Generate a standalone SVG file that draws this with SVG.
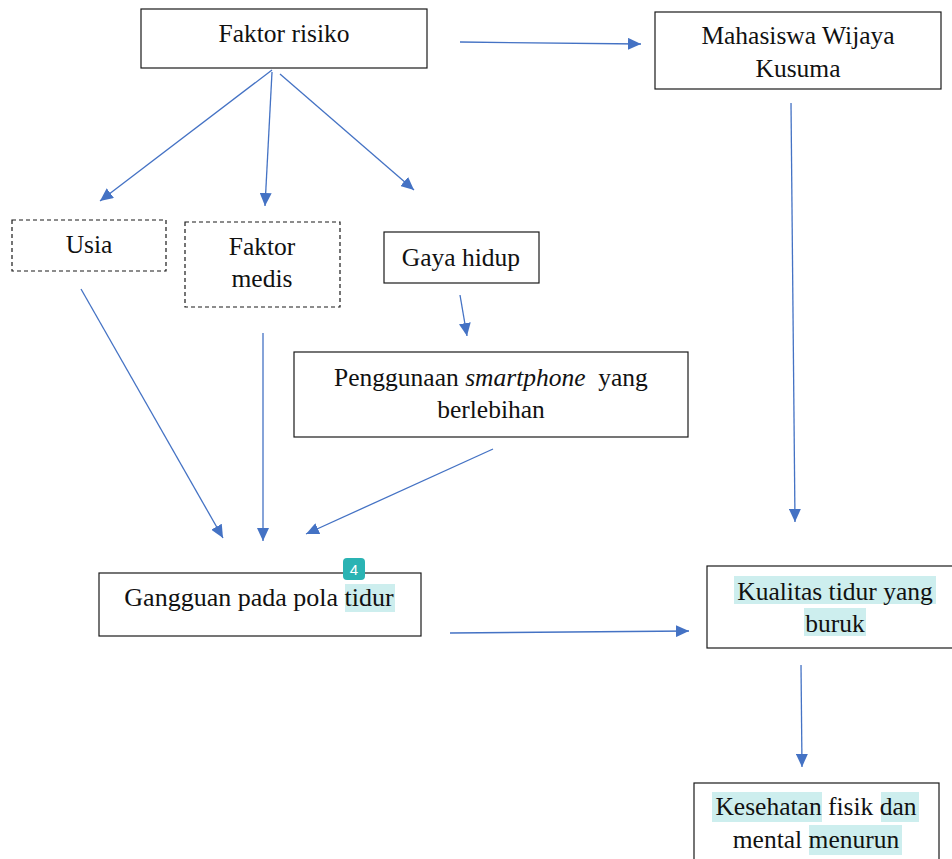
<svg xmlns="http://www.w3.org/2000/svg" width="952" height="859" viewBox="0 0 952 859">
<style>
.box{fill:#fff;stroke:#1a1a1a;stroke-width:1.2}
.dash{fill:#fff;stroke:#1a1a1a;stroke-width:1.2;stroke-dasharray:4 3}
.t{font-family:'Liberation Serif','Times New Roman',serif;font-size:25.5px;fill:#111;text-anchor:middle}
.hl{fill:#cdeeee}
.c{stroke:#4472c4;stroke-width:1.3;fill:none;marker-end:url(#ah)}
</style>
<defs>
<marker id="ah" markerUnits="userSpaceOnUse" markerWidth="14" markerHeight="12" refX="13" refY="6" orient="auto">
<path d="M0,0 L13,6 L0,12 Z" fill="#4472c4"/>
</marker>
</defs>
<rect width="952" height="859" fill="#fff"/>
<g id="connectors">
<line class="c" x1="460" y1="42" x2="641" y2="44"/>
<line class="c" x1="272" y1="70" x2="100" y2="201"/>
<line class="c" x1="272" y1="72" x2="265" y2="206"/>
<line class="c" x1="280" y1="74" x2="414" y2="190"/>
<line class="c" x1="791" y1="103" x2="795" y2="522"/>
<line class="c" x1="81" y1="289" x2="223" y2="538"/>
<line class="c" x1="263" y1="333" x2="263" y2="541"/>
<line class="c" x1="460" y1="295" x2="467" y2="336"/>
<line class="c" x1="493" y1="449" x2="306" y2="534"/>
<line class="c" x1="450" y1="633" x2="689" y2="631"/>
<line class="c" x1="801" y1="665" x2="802" y2="767"/>
</g>
<g id="faktor-risiko">
<rect class="box" x="141" y="9" width="286" height="59"/>
<text class="t" x="284" y="42">Faktor risiko</text>
</g>
<g id="mahasiswa">
<rect class="box" x="655" y="12" width="286" height="77"/>
<text class="t" x="798" y="44">Mahasiswa Wijaya</text>
<text class="t" x="798" y="77">Kusuma</text>
</g>
<g id="usia">
<rect class="dash" x="12" y="220" width="154" height="51"/>
<text class="t" x="89" y="253">Usia</text>
</g>
<g id="faktor-medis">
<rect class="dash" x="185" y="222" width="155" height="85"/>
<text class="t" x="262" y="255">Faktor</text>
<text class="t" x="262" y="287">medis</text>
</g>
<g id="gaya-hidup">
<rect class="box" x="384" y="232" width="155" height="51"/>
<text class="t" x="461" y="266">Gaya hidup</text>
</g>
<g id="smartphone">
<rect class="box" x="294" y="352" width="394" height="85"/>
<text class="t" x="491" y="386" xml:space="preserve">Penggunaan <tspan font-style="italic">smartphone</tspan>  yang</text>
<text class="t" x="491" y="418">berlebihan</text>
</g>
<g id="gangguan">
<rect class="box" x="99" y="573" width="322" height="63"/>
<rect class="hl" x="345" y="584" width="50" height="28"/>
<text class="t" x="259" y="606" style="font-size:26px">Gangguan pada pola tidur</text>
<rect x="343" y="558" width="22" height="22" rx="4" fill="#2ab3b3"/>
<text x="354" y="575" font-family="'Liberation Sans', Arial, sans-serif" font-size="15" fill="#fff" text-anchor="middle">4</text>
</g>
<g id="kualitas">
<rect class="box" x="707" y="566" width="250" height="82"/>
<rect class="hl" x="734" y="576" width="202" height="28"/>
<rect class="hl" x="804" y="608" width="62" height="28"/>
<text class="t" x="835" y="600">Kualitas tidur yang</text>
<text class="t" x="835" y="632">buruk</text>
</g>
<g id="kesehatan">
<rect class="box" x="694" y="783" width="245" height="90"/>
<rect class="hl" x="712" y="792" width="110" height="30"/>
<rect class="hl" x="881" y="792" width="38" height="30"/>
<rect class="hl" x="809" y="825" width="93" height="30"/>
<text class="t" x="816" y="815">Kesehatan fisik dan</text>
<text class="t" x="816" y="848">mental menurun</text>
</g>
</svg>
